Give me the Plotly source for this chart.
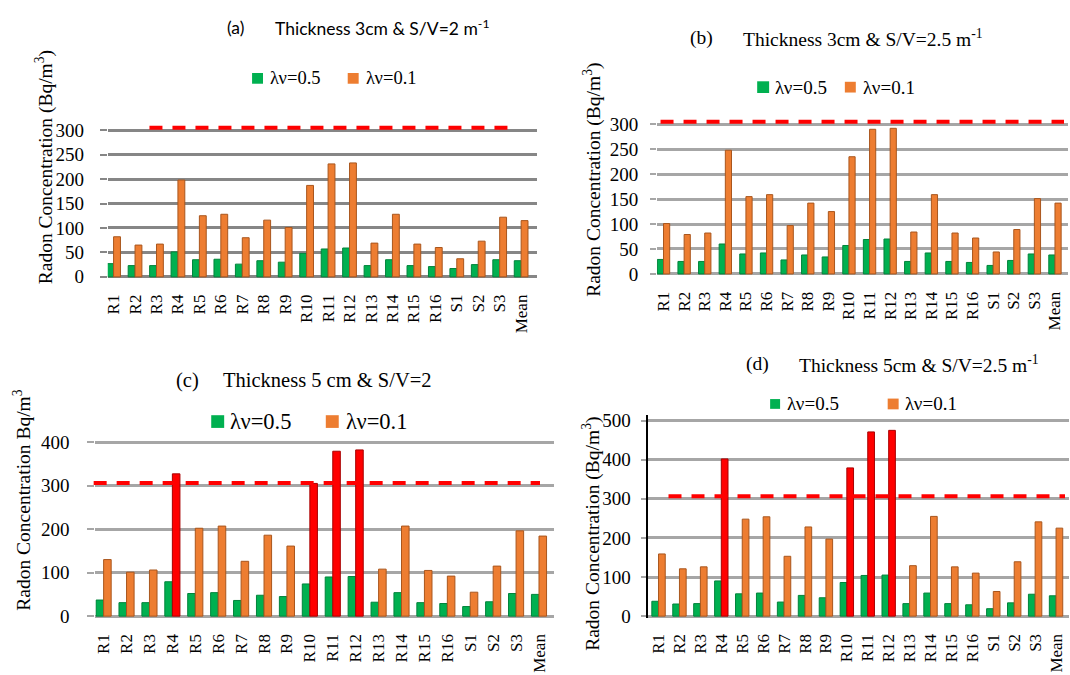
import plotly.graph_objects as go

W, H = 1070, 675

# ---- data -------------------------------------------------------------
categories = ["R1", "R2", "R3", "R4", "R5", "R6", "R7", "R8", "R9", "R10",
              "R11", "R12", "R13", "R14", "R15", "R16", "S1", "S2", "S3", "Mean"]
series_names = ["λν=0.5", "λν=0.1"]

# (a) thickness 3 cm, S/V = 2 m-1
a_lv05 = [27, 23, 23, 51, 35, 36, 26, 33, 30, 48, 57, 59, 23, 35, 23, 21, 17, 25, 35, 33]
a_lv01 = [82, 65, 67, 198, 125, 128, 80, 116, 101, 187, 231, 233, 69, 128, 67, 60, 37, 73, 122, 115]
# (b) thickness 3 cm, S/V = 2.5 m-1
b_lv05 = [29, 25, 25, 60, 40, 42, 28, 38, 34, 57, 69, 70, 25, 42, 25, 23, 17, 27, 40, 38]
b_lv01 = [101, 79, 82, 248, 155, 159, 97, 142, 125, 235, 290, 292, 84, 159, 82, 72, 44, 89, 151, 142]
# (c) thickness 5 cm, S/V = 2
c_lv05 = [37, 31, 31, 79, 52, 54, 36, 48, 45, 74, 90, 91, 32, 54, 31, 29, 22, 33, 52, 50]
c_lv01 = [130, 101, 106, 327, 202, 207, 126, 186, 161, 305, 379, 382, 108, 207, 105, 92, 55, 115, 196, 184]
# (d) thickness 5 cm, S/V = 2.5 m-1
d_lv05 = [38, 31, 32, 90, 57, 59, 36, 53, 47, 86, 104, 105, 32, 59, 32, 29, 19, 34, 56, 52]
d_lv01 = [159, 121, 126, 402, 248, 254, 153, 228, 197, 379, 471, 475, 129, 255, 126, 110, 63, 139, 241, 225]

REFERENCE_LEVEL = 300  # Bq/m3 action level

tick_vals_a = [0, 50, 100, 150, 200, 250, 300]
tick_vals_b = [0, 50, 100, 150, 200, 250, 300]
tick_vals_c = [0, 100, 200, 300, 400]
tick_vals_d = [0, 100, 200, 300, 400, 500]

# ---- styling ----------------------------------------------------------
GREEN, GREEN_EDGE = "#00b050", "#00833b"
ORANGE, ORANGE_EDGE = "#ed7d31", "#a9561d"
RED, RED_EDGE = "#ff0000", "#a80000"
SERIF = "Liberation Serif"
SANS = "Lato"

panels = [
    dict(tag="(a)", title="Thickness 3cm & S/V=2 m<sup>-1</sup>", title_font=SANS, title_size=17.5,
         tag_x=222, title_x=270, title_y=22,
         ytitle="Radon Concentration (Bq/m<sup>3</sup>)", ytitle_x=40, ytitle_y=165,
         low=a_lv05, high=a_lv01, ticks=tick_vals_a,
         first=110, step=21.53, xr=(-0.27, 19.75), zero=277, k=0.5, yr=(-4, 320),
         w=0.32, grid="#868686", ref_x=(146, 511),
         key_y=74, key=((249, 260, 265), (345, 356, 361)), key_size=18.5,
         stub=7, stub_color="#868686", label_gap=12, axisline=False),
    dict(tag="(b)", title="Thickness 3cm & S/V=2.5 m<sup>-1</sup>", title_font=SERIF, title_size=19.5,
         tag_x=687, title_x=740, title_y=33,
         ytitle="Radon Concentration (Bq/m<sup>3</sup>)", ytitle_x=590, ytitle_y=178,
         low=b_lv05, high=b_lv01, ticks=tick_vals_b,
         first=662, step=20.68, xr=(-0.32, 19.62), zero=274, k=0.51, yr=(-4, 318),
         w=0.30, grid="#a6a6a6", ref_x=(659, 1064),
         key_y=83, key=((756, 768, 772), (844, 855, 860)), key_size=19,
         stub=6, stub_color="#a6a6a6", label_gap=8, axisline=False),
    dict(tag="(c)", title="Thickness 5 cm & S/V=2", title_font=SERIF, title_size=20.5,
         tag_x=171, title_x=218, title_y=383,
         ytitle="Radon Concentration Bq/m<sup>3</sup>", ytitle_x=18, ytitle_y=505,
         low=c_lv05, high=c_lv01, ticks=tick_vals_c,
         first=100, step=23.0, xr=(-0.36, 19.65), zero=624, k=0.445, yr=(-5, 410),
         w=0.33, grid="#a6a6a6", ref_x=(90, 538),
         key_y=425, key=((208, 221, 225), (323, 336, 341)), key_size=22.5,
         stub=7, stub_color="#a6a6a6", label_gap=14, axisline=False),
    dict(tag="(d)", title="Thickness 5cm & S/V=2.5 m<sup>-1</sup>", title_font=SERIF, title_size=19.5,
         tag_x=743, title_x=796, title_y=366,
         ytitle="Radon Concentration (Bq/m<sup>3</sup>)", ytitle_x=589, ytitle_y=540,
         low=d_lv05, high=d_lv01, ticks=tick_vals_d,
         first=657, step=21.0, xr=(-0.52, 19.6), zero=624, k=0.4, yr=(-5, 515),
         w=0.32, grid="#a6a6a6", ref_x=(667, 1065),
         key_y=407, key=((769, 779, 784), (887, 898, 902)), key_size=19,
         stub=5, stub_color="#a6a6a6", label_gap=6, axisline=True),
]


def px_x(px):
    return px / W


def px_y(py):
    return 1 - py / H


fig = go.Figure()
shapes, annotations = [], []

for i, p in enumerate(panels, start=1):
    xa = "x" if i == 1 else f"x{i}"
    ya = "y" if i == 1 else f"y{i}"
    xkey = "xaxis" if i == 1 else f"xaxis{i}"
    ykey = "yaxis" if i == 1 else f"yaxis{i}"

    high_colors = [RED if v > REFERENCE_LEVEL else ORANGE for v in p["high"]]
    high_edges = [RED_EDGE if v > REFERENCE_LEVEL else ORANGE_EDGE for v in p["high"]]

    fig.add_trace(go.Bar(
        x=categories, y=p["low"], name=series_names[0], xaxis=xa, yaxis=ya,
        width=p["w"], offset=-p["w"], showlegend=False,
        marker=dict(color=GREEN, line=dict(color=GREEN_EDGE, width=1)),
    ))
    fig.add_trace(go.Bar(
        x=categories, y=p["high"], name=series_names[1], xaxis=xa, yaxis=ya,
        width=p["w"], offset=0, showlegend=False,
        marker=dict(color=high_colors, line=dict(color=high_edges, width=1)),
    ))

    left = p["first"] + p["xr"][0] * p["step"]
    right = p["first"] + p["xr"][1] * p["step"]
    bottom = p["zero"] - p["yr"][0] * p["k"]
    top = p["zero"] - p["yr"][1] * p["k"]

    fig.update_layout({
        xkey: dict(
            domain=[px_x(left), min(px_x(right), 1.0)], anchor=ya,
            type="category", range=list(p["xr"]),
            showgrid=False, zeroline=False, showline=False,
            ticks="outside", ticklen=8, tickcolor="rgba(0,0,0,0)",
            tickangle=-90, tickfont=dict(family=SERIF, size=17, color="#000000"),
        ),
        ykey: dict(
            domain=[px_y(bottom), px_y(top)], anchor=xa,
            range=list(p["yr"]), tickvals=p["ticks"],
            showgrid=True, gridcolor=p["grid"], gridwidth=2.5, zeroline=False,
            showline=p["axisline"], linecolor="#000000", linewidth=2,
            ticks="outside", ticklen=p["stub"], tickwidth=2, tickcolor=p["stub_color"],
            ticklabelstandoff=p["label_gap"],
            tickfont=dict(family=SERIF, size=19, color="#000000"),
        ),
    })

    # reference (action) level, drawn just above its gridline
    shapes.append(dict(
        type="line", xref="paper", yref=ya, layer="above",
        x0=px_x(p["ref_x"][0]), x1=px_x(p["ref_x"][1]),
        ysizemode="pixel", yanchor=REFERENCE_LEVEL, y0=2.5, y1=2.5,
        line=dict(color=RED, width=4, dash="13px,10px"),
    ))

    # panel heading
    annotations.append(dict(
        text=p["tag"], xref="paper", yref="paper", x=px_x(p["tag_x"]), y=px_y(p["title_y"]),
        xanchor="left", yanchor="middle", showarrow=False,
        font=dict(family=p["title_font"], size=p["title_size"], color="#000000"),
    ))
    annotations.append(dict(
        text=p["title"], xref="paper", yref="paper", x=px_x(p["title_x"]), y=px_y(p["title_y"]),
        xanchor="left", yanchor="middle", showarrow=False,
        font=dict(family=p["title_font"], size=p["title_size"], color="#000000"),
    ))

    # y axis title
    annotations.append(dict(
        text=p["ytitle"], xref="paper", yref="paper", x=px_x(p["ytitle_x"]), y=px_y(p["ytitle_y"]),
        xanchor="center", yanchor="middle", textangle=-90, showarrow=False,
        font=dict(family=SERIF, size=19.5, color="#000000"),
    ))

    # series key
    for (sq0, sq1, tx), name, col in zip(p["key"], series_names, (GREEN, ORANGE)):
        half = (sq1 - sq0) / 2
        shapes.append(dict(
            type="rect", xref="paper", yref="paper", layer="above",
            x0=px_x(sq0), x1=px_x(sq1), y0=px_y(p["key_y"] + half), y1=px_y(p["key_y"] - half),
            fillcolor=col, line=dict(width=0),
        ))
        annotations.append(dict(
            text=name, xref="paper", yref="paper", x=px_x(tx), y=px_y(p["key_y"]),
            xanchor="left", yanchor="middle", showarrow=False,
            font=dict(family=SERIF, size=p["key_size"], color="#000000"),
        ))

fig.update_layout(
    width=W, height=H,
    margin=dict(l=0, r=0, t=0, b=0),
    paper_bgcolor="#ffffff", plot_bgcolor="#ffffff",
    font=dict(family=SERIF),
    barmode="overlay", showlegend=False,
    shapes=shapes, annotations=annotations,
)

fig.write_html("out.html")
